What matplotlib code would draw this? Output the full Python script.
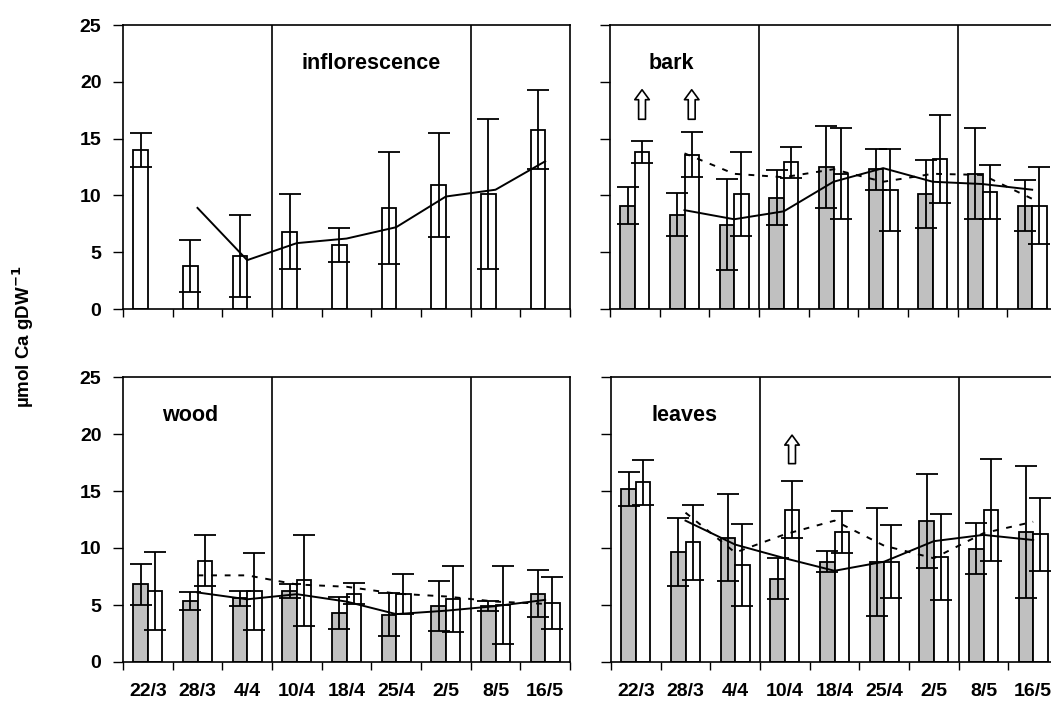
import numpy as np
import matplotlib
matplotlib.use('Agg')
import matplotlib.pyplot as plt

plt.rcParams['font.family'] = ['Liberation Sans', 'DejaVu Sans']
plt.rcParams['font.weight'] = 'bold'

# fechas de muestreo
dates = ['22/3', '28/3', '4/4', '10/4', '18/4', '25/4', '2/5', '8/5', '16/5']

# inflorescence (solo una serie)
infl_mean = [14.0, 3.8, 4.7, 6.8, 5.6, 8.9, 10.9, 10.1, 15.8]
infl_sd = [1.5, 2.3, 3.6, 3.3, 1.5, 4.9, 4.6, 6.6, 3.5]
infl_trend = [np.nan, 8.9, 4.3, 5.8, 6.2, 7.2, 9.9, 10.5, 13.0]

# bark
bark_grey = [9.1, 8.3, 7.4, 9.8, 12.5, 12.3, 10.1, 11.9, 9.1]
bark_grey_sd = [1.6, 1.9, 4.0, 2.4, 3.6, 1.8, 3.0, 4.0, 2.25]
bark_white = [13.8, 13.6, 10.1, 12.9, 11.9, 10.5, 13.2, 10.3, 9.1]
bark_white_sd = [0.95, 2.0, 3.7, 1.4, 4.0, 3.6, 3.9, 2.4, 3.4]
bark_grey_trend = [np.nan, 8.7, 7.9, 8.6, 11.2, 12.4, 11.2, 11.0, 10.5]
bark_white_trend = [np.nan, 13.7, 11.9, 11.6, 12.3, 11.2, 11.9, 11.8, 9.7]

# wood
wood_grey = [6.8, 5.35, 5.6, 6.25, 4.3, 4.15, 4.9, 4.9, 6.0]
wood_grey_sd = [1.8, 0.8, 0.65, 0.6, 1.4, 1.9, 2.2, 0.45, 2.05]
wood_white = [6.25, 8.9, 6.2, 7.15, 6.0, 6.0, 5.5, 5.0, 5.2]
wood_white_sd = [3.4, 2.2, 3.4, 4.0, 0.9, 1.75, 2.9, 3.4, 2.3]
wood_grey_trend = [np.nan, 6.1, 5.5, 5.95, 5.3, 4.2, 4.5, 4.9, 5.45]
wood_white_trend = [np.nan, 7.6, 7.6, 6.8, 6.6, 6.0, 5.75, 5.3, 5.1]

# leaves
leaves_grey = [15.15, 9.65, 10.9, 7.3, 8.8, 8.8, 12.35, 9.95, 11.4]
leaves_grey_sd = [1.5, 3.0, 3.8, 1.8, 0.9, 4.75, 4.1, 2.25, 5.8]
leaves_white = [15.75, 10.5, 8.5, 13.35, 11.4, 8.8, 9.2, 13.35, 11.2]
leaves_white_sd = [2.0, 3.3, 3.6, 2.5, 1.85, 3.2, 3.8, 4.45, 3.2]
leaves_grey_trend = [np.nan, 12.4, 10.3, 9.1, 8.0, 8.8, 10.6, 11.15, 10.7]
leaves_white_trend = [np.nan, 13.1, 9.6, 11.2, 12.4, 10.2, 9.1, 11.3, 12.3]

x = np.arange(len(dates))
w = 0.29
grey = '#c0c0c0'

fig = plt.figure(figsize=(10.51, 7.02), dpi=100)
W, H = 1051, 702
def box(l, t, r, b):
    return [l / W, 1 - b / H, (r - l) / W, (b - t) / H]

ax_infl = fig.add_axes(box(123, 25, 570, 309))
ax_bark = fig.add_axes(box(610, 25, 1057, 309))
ax_wood = fig.add_axes(box(123, 377, 570, 662))
ax_leav = fig.add_axes(box(611, 377, 1058, 662))

ekw = dict(fmt='none', ecolor='black', elinewidth=1.3, capsize=8, capthick=1.3)


def base(ax, label, lx, show_y, show_x):
    ax.set_xlim(-0.5, 8.5)
    ax.set_ylim(0, 25)
    ax.set_yticks([0, 5, 10, 15, 20, 25])
    ax.set_xticks(np.arange(-0.5, 9.0, 1.0))
    ax.set_xticklabels([])
    ax.set_xticks(x, minor=True)
    ax.tick_params(axis='x', which='major', direction='out', length=6, width=1)
    ax.tick_params(axis='x', which='minor', length=0, pad=15, labelsize=14)
    ax.tick_params(axis='y', direction='out', length=7, width=1, labelsize=14, pad=8.5)
    if show_x:
        ax.set_xticklabels(dates, minor=True, fontweight='bold')
    if not show_y:
        ax.set_yticklabels([])
    for s in ax.spines.values():
        s.set_linewidth(1.2)
    for b in (2.5, 6.5):
        ax.axvline(b, color='black', lw=1.2)
    ax.text(lx, 21.6, label, ha='center', va='center', fontsize=15.5, fontweight='bold')


def two_series(ax, g, gsd, wt, wsd, gtr, wtr):
    ax.bar(x - w / 2, g, w, color=grey, edgecolor='black', linewidth=1.3, zorder=2)
    ax.bar(x + w / 2, wt, w, color='white', edgecolor='black', linewidth=1.3, zorder=2)
    ax.errorbar(x - w / 2, g, yerr=gsd, zorder=3, **ekw)
    ax.errorbar(x + w / 2, wt, yerr=wsd, zorder=3, **ekw)
    ax.plot(x, gtr, color='black', lw=1.4, zorder=4)
    ax.plot(x, wtr, color='black', lw=1.4, ls=(0, (3, 4)), zorder=4)


def arrow(ax, xa, y0, y1):
    ax.annotate('', xy=(xa, y1), xytext=(xa, y0),
                arrowprops=dict(arrowstyle='simple,head_length=0.65,head_width=0.95,tail_width=0.45',
                                mutation_scale=11, fc='white', ec='black', lw=1.2,
                                shrinkA=0, shrinkB=0), zorder=5)


# inflorescence
base(ax_infl, 'inflorescence', 4.5, True, False)
ax_infl.bar(x - w / 2, infl_mean, w, color='white', edgecolor='black', linewidth=1.3, zorder=2)
ax_infl.errorbar(x - w / 2, infl_mean, yerr=infl_sd, zorder=3, **ekw)
ax_infl.plot(x, infl_trend, color='black', lw=1.4, zorder=4)

# bark
base(ax_bark, 'bark', 0.73, False, False)
two_series(ax_bark, bark_grey, bark_grey_sd, bark_white, bark_white_sd,
           bark_grey_trend, bark_white_trend)
arrow(ax_bark, 0 + w / 2, 16.7, 19.3)
arrow(ax_bark, 1 + w / 2, 16.7, 19.3)

# wood
base(ax_wood, 'wood', 0.85, True, True)
two_series(ax_wood, wood_grey, wood_grey_sd, wood_white, wood_white_sd,
           wood_grey_trend, wood_white_trend)

# leaves
base(ax_leav, 'leaves', 0.97, False, True)
two_series(ax_leav, leaves_grey, leaves_grey_sd, leaves_white, leaves_white_sd,
           leaves_grey_trend, leaves_white_trend)
arrow(ax_leav, 3 + w / 2, 17.4, 19.9)

fig.text(0.022, 0.52, r'µmol Ca gDW$^{\mathbf{-1}}$', rotation=90, ha='center', va='center',
         fontsize=13.5, fontweight='bold')

fig.savefig('out.png', dpi=100)
